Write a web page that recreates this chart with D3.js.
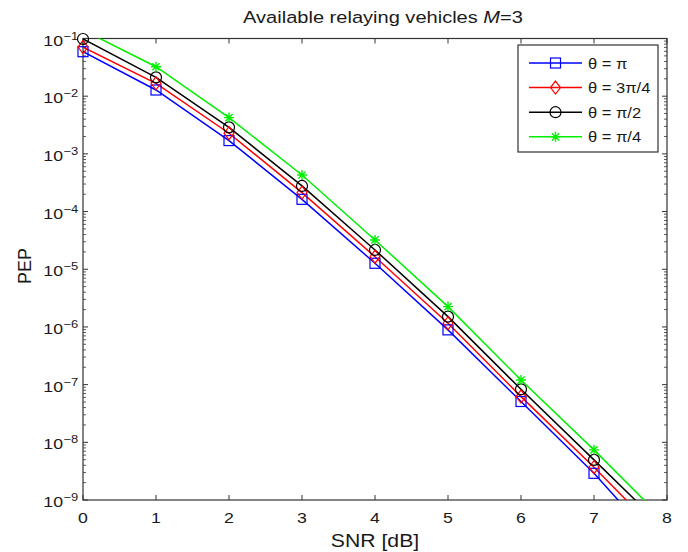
<!DOCTYPE html>
<html>
<head>
<meta charset="utf-8">
<script src="https://cdn.jsdelivr.net/npm/d3@7"></script>
<style>
  body { margin: 0; background: #fff; }
  svg text { font-family: "Liberation Sans", Arial, Helvetica, sans-serif; fill: #1a1a1a; }
</style>
</head>
<body>
<svg id="chart" width="688" height="552"></svg>
<script>
// SNR points (dB)
const snr = [0, 1, 2, 3, 4, 5, 6, 7, 8];
// PEP for each relay angle
const pepPi      = [0.059, 0.0128, 0.0017, 1.63e-4, 1.27e-5, 8.9e-7, 5.1e-8, 2.9e-9, 1.15e-10];
const pep3Pi4    = [0.071, 0.0167, 0.00228, 2.13e-4, 1.65e-5, 1.16e-6, 6.2e-8, 3.7e-9, 1.9e-10];
const pepPi2     = [0.098, 0.0212, 0.00288, 2.78e-4, 2.16e-5, 1.51e-6, 8.3e-8, 4.96e-9, 2.9e-10];
const pepPi4     = [0.14, 0.0324, 0.00425, 4.3e-4, 3.22e-5, 2.25e-6, 1.2e-7, 7.4e-9, 4.0e-10];
const seriesNames = ["θ = π", "θ = 3π/4", "θ = π/2", "θ = π/4"];
const xTicks = [0, 1, 2, 3, 4, 5, 6, 7, 8];
const yExponents = [-1, -2, -3, -4, -5, -6, -7, -8, -9];

const series = [
  { name: seriesNames[0], values: pepPi,   color: "#0000ff", marker: "square" },
  { name: seriesNames[1], values: pep3Pi4, color: "#ff0000", marker: "diamond" },
  { name: seriesNames[2], values: pepPi2,  color: "#000000", marker: "circle" },
  { name: seriesNames[3], values: pepPi4,  color: "#00f000", marker: "star" }
];

const svg = d3.select("#chart");
const plotLeft = 83, plotRight = 667, plotTop = 38.5, plotBottom = 500;
const x = d3.scaleLinear().domain([0, 8]).range([plotLeft, plotRight]);
const y = d3.scaleLog().domain([1e-9, 1e-1]).range([plotBottom, plotTop]);
const axisColor = "#333";
const stretch = 1.18; // text is drawn slightly wide

// text helper: anchored at (tx, ty), widened horizontally
function label(parent, tx, ty, size, anchor) {
  return parent.append("text")
    .attr("transform", `translate(${tx},${ty}) scale(${stretch},1)`)
    .attr("font-size", size).attr("text-anchor", anchor || "start");
}

svg.append("defs").append("clipPath").attr("id", "plotClip")
  .append("rect").attr("x", plotLeft).attr("y", plotTop)
  .attr("width", plotRight - plotLeft).attr("height", plotBottom - plotTop);

// axes box
svg.append("rect").attr("x", plotLeft).attr("y", plotTop)
  .attr("width", plotRight - plotLeft).attr("height", plotBottom - plotTop)
  .attr("fill", "none").attr("stroke", axisColor).attr("stroke-width", 1.2);

// x ticks (bottom and top, pointing inward)
const gx = svg.append("g");
xTicks.forEach(t => {
  const px = x(t);
  gx.append("line").attr("x1", px).attr("x2", px).attr("y1", plotBottom).attr("y2", plotBottom - 5)
    .attr("stroke", axisColor);
  gx.append("line").attr("x1", px).attr("x2", px).attr("y1", plotTop).attr("y2", plotTop + 5)
    .attr("stroke", axisColor);
  label(gx, px, 523, 15, "middle").text(t);
});

// y ticks: decades plus minor 2..9
const gy = svg.append("g");
for (let e = -9; e <= -1; e++) {
  const v = Math.pow(10, e);
  const py = y(v);
  gy.append("line").attr("x1", plotLeft).attr("x2", plotLeft + 5).attr("y1", py).attr("y2", py).attr("stroke", axisColor);
  gy.append("line").attr("x1", plotRight).attr("x2", plotRight - 5).attr("y1", py).attr("y2", py).attr("stroke", axisColor);
  if (e < -1) {
    for (let m = 2; m <= 9; m++) {
      const pm = y(m * v);
      gy.append("line").attr("x1", plotLeft).attr("x2", plotLeft + 3).attr("y1", pm).attr("y2", pm).attr("stroke", axisColor).attr("stroke-width", 0.8);
      gy.append("line").attr("x1", plotRight).attr("x2", plotRight - 3).attr("y1", pm).attr("y2", pm).attr("stroke", axisColor).attr("stroke-width", 0.8);
    }
  }
}
yExponents.forEach(e => {
  const py = y(Math.pow(10, e));
  label(gy, 63, py + 7, 15, "end").text("10");
  label(gy, 63.5, py + 1, 11, "start").text("−" + (-e));
});

// series lines and markers
const line = d3.line().x((d, i) => x(snr[i])).y(d => y(d));
const plot = svg.append("g");
const lines = plot.append("g").attr("clip-path", "url(#plotClip)");

function drawMarker(g, type, cx, cy, color) {
  if (type === "square") {
    g.append("rect").attr("x", cx - 5).attr("y", cy - 5).attr("width", 10).attr("height", 10)
      .attr("fill", "none").attr("stroke", color).attr("stroke-width", 1.2);
  } else if (type === "diamond") {
    g.append("path").attr("d", `M${cx},${cy - 6.5}L${cx + 5},${cy}L${cx},${cy + 6.5}L${cx - 5},${cy}Z`)
      .attr("fill", "none").attr("stroke", color).attr("stroke-width", 1.2);
  } else if (type === "circle") {
    g.append("circle").attr("cx", cx).attr("cy", cy).attr("r", 5.5)
      .attr("fill", "none").attr("stroke", color).attr("stroke-width", 1.2);
  } else if (type === "star") {
    const r = 5, d = r * 0.72;
    g.append("path").attr("d",
      `M${cx - r},${cy}L${cx + r},${cy}M${cx},${cy - r}L${cx},${cy + r}` +
      `M${cx - d},${cy - d}L${cx + d},${cy + d}M${cx - d},${cy + d}L${cx + d},${cy - d}`)
      .attr("stroke", color).attr("stroke-width", 1.4);
  }
}

series.forEach(s => {
  lines.append("path").datum(s.values).attr("d", line)
    .attr("fill", "none").attr("stroke", s.color).attr("stroke-width", 1.5);
});
series.forEach(s => {
  const g = plot.append("g");
  s.values.forEach((v, i) => {
    if (v <= 1e-1 && v >= 1e-9) drawMarker(g, s.marker, x(snr[i]), y(v), s.color);
  });
});

// legend
const lg = svg.append("g");
lg.append("rect").attr("x", 518).attr("y", 45).attr("width", 140).attr("height", 107)
  .attr("fill", "#fff").attr("stroke", axisColor).attr("stroke-width", 1.2);
series.forEach((s, i) => {
  const ly = 63 + i * 24.6;
  lg.append("line").attr("x1", 529).attr("x2", 582).attr("y1", ly).attr("y2", ly)
    .attr("stroke", s.color).attr("stroke-width", 1.5);
  drawMarker(lg, s.marker, 555.5, ly, s.color);
  label(lg, 588, ly + 5.5, 14, "start").text(s.name);
});

// title and axis labels
const title = label(svg, 383, 23, 17, "middle");
title.append("tspan").text("Available relaying vehicles ");
title.append("tspan").attr("font-style", "italic").text("M");
title.append("tspan").text("=3");

label(svg, 375, 547, 18, "middle").text("SNR [dB]");
svg.append("text").attr("transform", "translate(31,266) rotate(-90)")
  .attr("text-anchor", "middle").attr("font-size", 18).text("PEP");
</script>
</body>
</html>
